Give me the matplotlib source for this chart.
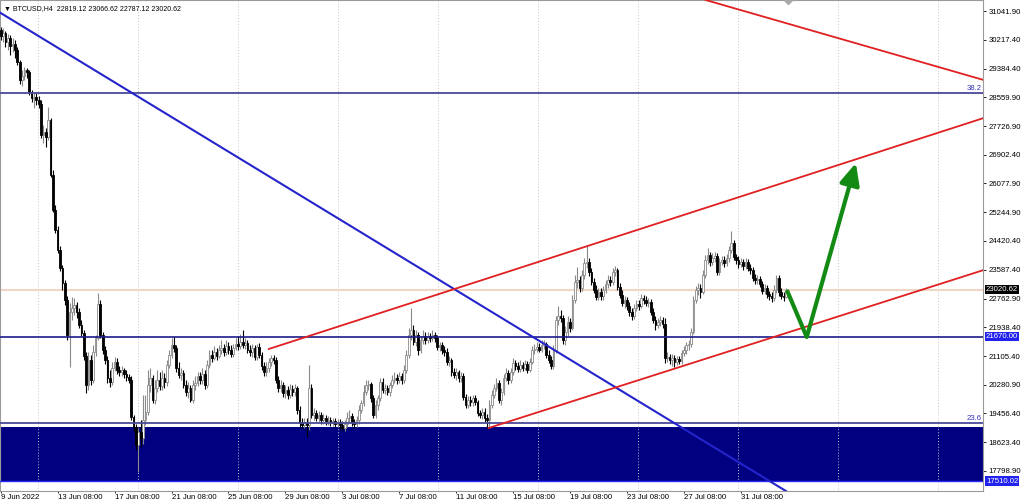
import numpy as np
import matplotlib
matplotlib.use('Agg')
import matplotlib.pyplot as plt
from matplotlib.transforms import blended_transform_factory

plt.rcParams['font.family'] = ['Liberation Sans', 'DejaVu Sans']

# BTCUSD H4, first bar 9 Jun 2022 08:00, one value per 4h bar
open0 = 30495
closes = [30322, 30409, 30149, 30265, 30034, 30092, 29919, 29574, 29055, 29171,
          29343, 29286, 28710, 28537, 28566, 28480, 28364, 27472, 27558, 27414,
          27904, 26320, 25313, 24737, 24161, 23643, 23211, 22722, 21714, 22376,
          22491, 22578, 22376, 22002, 21772, 21109, 20274, 20994, 20418, 21225,
          21628, 22606, 21714, 21282, 20994, 20476, 20361, 20764, 20937, 20706,
          20649, 20706, 20591, 20505, 20418, 19353, 19065, 18547, 18921, 18749,
          19267, 19497, 20274, 20476, 19843, 20188, 20418, 20246, 20476, 20361,
          20850, 21138, 21426, 21340, 20764, 20562, 20620, 20274, 20073, 20188,
          19843, 20274, 20332, 20534, 20418, 20591, 20274, 20850, 21138, 21052,
          21225, 21109, 21282, 21340, 21225, 21397, 21282, 21167, 21340, 21455,
          21397, 21512, 21426, 21484, 21282, 21225, 21340, 21081, 21369, 21138,
          20822, 20649, 20764, 20937, 21052, 20994, 20418, 20188, 20274, 20044,
          20131, 19987, 20159, 20073, 20188, 19555, 19180, 19123, 19209, 19123,
          20188, 19411, 19468, 19324, 19411, 19267, 19324, 19238, 19267, 19209,
          19238, 19152, 19209, 19123, 19037, 19152, 19324, 19382, 19209, 19152,
          19267, 19555, 19756, 20073, 20274, 20303, 19900, 19411, 19699, 19900,
          20361, 20131, 20188, 20073, 20274, 20418, 20476, 20418, 20534, 20418,
          20706, 21138, 21714, 21858, 21512, 21714, 21282, 21570, 21685, 21570,
          21685, 21628, 21714, 21628, 21369, 21426, 21282, 21225, 20937, 20994,
          20649, 20562, 20649, 20476, 20534, 19929, 19699, 19843, 19785, 19900,
          19785, 19468, 19411, 19497, 19324, 19267, 19699, 19987, 20188, 20332,
          19843, 20073, 20476, 20620, 20418, 20649, 20908, 20822, 20735, 20850,
          20764, 20879, 20706, 20937, 21282, 21311, 21369, 21282, 21426, 21455,
          21138, 20994, 20822, 21282, 22146, 22261, 22203, 21570, 21800, 22088,
          21916, 22722, 23240, 23297, 23067, 23441, 23787, 23816, 23528, 23240,
          23010, 22808, 22952, 22837, 23010, 23182, 23297, 23240, 23528, 23585,
          23096, 22866, 22635, 22722, 22549, 22376, 22261, 22491, 22606, 22549,
          22779, 22722, 22635, 22664, 22376, 22146, 22002, 22088, 22146, 22031,
          21052, 21081, 20994, 21052, 20937, 21023, 20965, 21196, 21282, 21426,
          21455, 21800, 22722, 23010, 23067, 22952, 23441, 23873, 24017, 23816,
          23931, 23989, 23528, 23816, 23873, 23787, 23931, 24161, 24363, 23960,
          23873, 23758, 23816, 23700, 23816, 23643, 23585, 23355, 23297, 23326,
          23182, 22981, 23067, 22894, 22837, 22779, 23010, 23355, 22952, 22837,
          22819, 23020.62]
highs = [30581, 30553, 30466, 30380, 30351, 30265, 30207, 30006, 29631, 29343,
         29430, 29401, 29343, 28768, 28710, 28681, 28595, 28480, 27760, 27674,
         28278, 27961, 26464, 25457, 24852, 24276, 23729, 23297, 22837, 22635,
         22808, 22779, 22664, 22491, 22146, 21858, 21225, 21225, 21138, 21426,
         21714, 22923, 22722, 21800, 21397, 21109, 20706, 20937, 21081, 21052,
         20822, 20822, 20764, 20706, 20591, 20534, 19411, 19152, 19037, 19267,
         19987, 19987, 20706, 20764, 20562, 20418, 20706, 20649, 20706, 20620,
         20994, 21282, 21628, 21656, 21426, 20937, 20764, 20706, 20418, 20361,
         20274, 20418, 20534, 20649, 20649, 20764, 20706, 20994, 21282, 21282,
         21397, 21340, 21426, 21570, 21455, 21570, 21512, 21426, 21455, 21628,
         21685, 21743, 21858, 21628, 21570, 21426, 21455, 21426, 21455, 21484,
         21225, 20937, 20937, 21052, 21138, 21138, 21081, 20534, 20418, 20361,
         20274, 20246, 20303, 20274, 20303, 20246, 19670, 19324, 19324, 19324,
         20850, 20303, 19612, 19555, 19526, 19497, 19440, 19411, 19382, 19353,
         19324, 19324, 19296, 19296, 19238, 19267, 19497, 19555, 19468, 19296,
         19382, 19699, 19843, 20274, 20418, 20418, 20361, 19987, 19843, 19987,
         20476, 20476, 20303, 20274, 20361, 20562, 20649, 20591, 20649, 20620,
         20850, 21282, 21916, 22491, 22002, 21858, 21800, 21685, 21858, 21800,
         21800, 21772, 21858, 21800, 21714, 21512, 21512, 21397, 21340, 21109,
         21052, 20764, 20764, 20706, 20649, 20620, 20015, 19958, 19958, 19987,
         19987, 19843, 19555, 19612, 19612, 19440, 19843, 20131, 20303, 20476,
         20418, 20188, 20591, 20764, 20706, 20764, 21052, 20994, 20937, 20994,
         20937, 20994, 20965, 21052, 21397, 21455, 21512, 21484, 21570, 21570,
         21512, 21282, 21109, 21426, 22261, 22549, 22434, 22290, 21973, 22261,
         22203, 22866, 23441, 23671, 23413, 23585, 23931, 24305, 23931, 23643,
         23355, 23153, 23067, 23067, 23125, 23297, 23441, 23413, 23643, 23700,
         23643, 23211, 23010, 22837, 22808, 22664, 22491, 22606, 22722, 22722,
         22894, 22866, 22837, 22779, 22750, 22491, 22261, 22203, 22261, 22232,
         22203, 21225, 21167, 21167, 21138, 21109, 21109, 21282, 21397, 21512,
         21570, 21916, 22837, 23125, 23211, 23182, 23585, 24017, 24219, 24103,
         24075, 24103, 24075, 23931, 23989, 23989, 24046, 24276, 24708, 24449,
         24046, 23989, 23931, 23902, 23931, 23902, 23758, 23671, 23470, 23441,
         23413, 23268, 23182, 23153, 22981, 22952, 23153, 23441, 23441, 23067,
         22952, 23066.62]
lows = [30207, 30149, 30006, 29919, 29775, 29862, 29689, 29487, 28940, 28883,
        29055, 29113, 28624, 28422, 28249, 28336, 28249, 27386, 27242, 27127,
        27328, 26263, 25255, 24651, 24075, 23557, 23010, 22578, 21570, 20793,
        22146, 22290, 22203, 21916, 21685, 20994, 20044, 20131, 20274, 20332,
        21109, 21570, 21628, 21167, 20879, 20332, 20217, 20274, 20678, 20591,
        20534, 20534, 20476, 20390, 20332, 19267, 18921, 18403, 17770, 18490,
        18576, 19123, 19411, 20073, 19756, 19727, 20073, 20131, 20131, 20188,
        20246, 20764, 21052, 21225, 20649, 20476, 20418, 20188, 19958, 19900,
        19785, 19756, 20131, 20246, 20303, 20303, 20159, 20188, 20764, 20937,
        20994, 20994, 21052, 21167, 21109, 21138, 21167, 21081, 21081, 21282,
        21282, 21311, 21340, 21311, 21196, 21109, 21081, 20994, 20994, 21052,
        20706, 20534, 20534, 20649, 20822, 20879, 20332, 20073, 20073, 19929,
        19900, 19871, 19900, 19958, 19958, 19440, 19065, 19037, 19037, 18777,
        18979, 19324, 19267, 19238, 19209, 19152, 19152, 19123, 19123, 19094,
        19094, 19065, 19065, 19008, 18950, 18950, 19065, 19209, 19094, 19037,
        19065, 19152, 19468, 19670, 19987, 20131, 19785, 19324, 19324, 19555,
        19814, 20044, 20015, 19987, 19958, 20188, 20332, 20303, 20332, 20303,
        20332, 20620, 21052, 21570, 21426, 21397, 21138, 21196, 21455, 21455,
        21484, 21512, 21541, 21512, 21282, 21253, 21167, 21109, 20850, 20822,
        20534, 20476, 20418, 20361, 20361, 19843, 19612, 19612, 19670, 19670,
        19699, 19382, 19324, 19296, 19209, 19037, 19065, 19612, 19900, 20102,
        19756, 19699, 19987, 20390, 20303, 20332, 20562, 20706, 20649, 20649,
        20678, 20706, 20620, 20649, 20879, 21167, 21225, 21225, 21225, 21311,
        21052, 20908, 20735, 20735, 21196, 22002, 22088, 21455, 21426, 21685,
        21800, 21858, 22635, 23067, 22952, 22981, 23326, 23643, 23413, 23153,
        22923, 22722, 22722, 22722, 22722, 22923, 23067, 23125, 23153, 23413,
        23010, 22779, 22549, 22491, 22434, 22261, 22146, 22175, 22405, 22434,
        22491, 22606, 22549, 22520, 22290, 22059, 21858, 21916, 21973, 21916,
        20908, 20937, 20879, 20822, 20793, 20850, 20879, 20879, 21109, 21167,
        21282, 21369, 21743, 22635, 22866, 22779, 22894, 23355, 23758, 23700,
        23729, 23816, 23441, 23441, 23729, 23671, 23700, 23816, 24075, 23873,
        23758, 23643, 23671, 23585, 23614, 23557, 23470, 23268, 23182, 23182,
        23096, 22894, 22894, 22779, 22722, 22664, 22693, 22923, 22837, 22750,
        22693, 22787.12]

price_ticks = [31041.90, 30217.40, 29384.40, 28559.90, 27726.90, 26902.40,
               26077.90, 25244.90, 24420.40, 23587.40, 22762.90, 21938.40,
               21105.40, 20280.90, 19456.40, 18623.40, 17798.90]
date_bars = [0, 24, 48, 72, 96, 120, 144, 168, 192, 216, 240, 264, 288, 312]
date_labels = ['9 Jun 2022', '13 Jun 08:00', '17 Jun 08:00', '21 Jun 08:00',
               '25 Jun 08:00', '29 Jun 08:00', '3 Jul 08:00', '7 Jul 08:00',
               '11 Jul 08:00', '15 Jul 08:00', '19 Jul 08:00', '23 Jul 08:00',
               '27 Jul 08:00', '31 Jul 08:00']

last_price = 23020.62
support = 21670.00
fib_382 = 28681
fib_236 = 19172
zone_top = 19074
zone_bottom = 17510.02

# drawn objects: (bar, price) anchors
blue_line = [(0, 30984), (331, 17223)]
red_top = [(297.2, 31358), (414.4, 29055)]
red_upper = [(113, 21311), (414.4, 27961)]
red_lower = [(205.7, 19037), (414.4, 23585)]
arrow_pts = [(331.4, 23010), (339.8, 21656), (360.5, 26666)]

green = '#138a13'
fs = 5.6

fig = plt.figure(figsize=(10.24, 5.01), dpi=100)
ax = fig.add_axes([0, 10 / 501, 983 / 1024, 491 / 501])
ax.set_xlim(-0.3, 414.1)
ax.set_ylim(17222.7, 31358.6)

# background zone and grid
ax.axhspan(zone_bottom, zone_top, color='#000080', lw=0, zorder=0)
grid_x = [(37 + 100 * k) / 2.372 for k in range(10)]
ax.vlines(grid_x, 17222.7, 31358.6, colors='#c4c4c4', linestyles=(0, (1, 2)),
          lw=0.7, zorder=1)
ax.axhline(last_price, color='#f0d6c4', lw=1.5, zorder=1.5)

# candles
o = np.array([open0] + closes[:-1], dtype=float)
c = np.array(closes, dtype=float)
h = np.array(highs, dtype=float)
l = np.array(lows, dtype=float)
x = np.arange(len(c))
up = c >= o
ax.vlines(x[up], l[up], h[up], color='#8a8a8a', lw=0.8, zorder=2)
ax.vlines(x[~up], l[~up], h[~up], color='black', lw=0.8, zorder=2)
ax.bar(x[up], (c - o)[up], bottom=o[up], width=0.72, color='white',
       edgecolor='#8a8a8a', lw=0.6, zorder=3)
ax.bar(x[~up], (c - o)[~up], bottom=o[~up], width=0.72, color='black',
       edgecolor='black', lw=0.6, zorder=3)

# levels
ax.axhline(support, color='#1c1c8a', lw=1.2, zorder=4)
ax.axhline(fib_382, color='#4a4a9c', lw=1.3, zorder=4)
ax.axhline(fib_236, color='#4a4a9c', lw=1.3, zorder=4)
ax.axhline(zone_bottom, color='#2a2aff', lw=1.0, zorder=4)

# trend lines
ax.axline(blue_line[0], blue_line[1], color='#2424cc', lw=1.5, zorder=4)
ax.axline(red_top[0], red_top[1], color='#e02020', lw=1.3, zorder=4)
for (x0, y0), (x1, y1) in [red_upper, red_lower]:
    k = (y1 - y0) / (x1 - x0)
    ax.plot([x0, 430], [y0, y0 + k * (430 - x0)], color='#e02020', lw=1.3, zorder=4)

# small grey marker at top edge
ax.plot(331.8, 31420, marker='D', ms=6, color='#a8a8a8', zorder=4)

# green arrow
ax.plot([arrow_pts[0][0], arrow_pts[1][0]], [arrow_pts[0][1], arrow_pts[1][1]],
        color=green, lw=3, solid_capstyle='butt', zorder=5)
ax.annotate('', xy=arrow_pts[2], xytext=arrow_pts[1],
            arrowprops=dict(arrowstyle='-|>,head_length=1.3,head_width=0.6',
                            color=green, lw=3, shrinkA=0, shrinkB=0,
                            mutation_scale=10), zorder=5)

# texts
ax.text(0.004, 0.99, '\u25bc BTCUSD,H4  22819.12 23066.62 22787.12 23020.62',
        transform=ax.transAxes, fontsize=5.0, va='top', ha='left', color='black')
tr = blended_transform_factory(ax.transAxes, ax.transData)
ax.text(0.999, fib_382 + 40, '38.2', transform=tr, ha='right', va='bottom',
        fontsize=fs, color='#3434b8')
ax.text(0.999, fib_236 + 40, '23.6', transform=tr, ha='right', va='bottom',
        fontsize=fs, color='#3434b8')
for val, bg in [(last_price, 'black'), (support, '#2222ee'), (zone_bottom, '#2222ee')]:
    ax.text(1.003, val, f'{val:.2f}', transform=tr, ha='left', va='center',
            fontsize=fs, color='white', clip_on=False,
            bbox=dict(boxstyle='square,pad=0.15', fc=bg, ec='none'))

# axes
ax.yaxis.tick_right()
ax.set_yticks(price_ticks)
ax.set_yticklabels([f'{v:.2f}' for v in price_ticks])
ax.tick_params(axis='y', direction='out', length=2.5, width=0.6, pad=1.5,
               labelsize=fs, colors='black')
ax.set_xticks(date_bars)
ax.set_xticklabels(date_labels, ha='left')
ax.tick_params(axis='x', direction='out', length=1.5, width=0.6, pad=0.5,
               labelsize=fs, colors='black')
for s in ax.spines.values():
    s.set_color('#9a9a9a')
    s.set_linewidth(0.8)

fig.savefig('out.png', dpi=100)
